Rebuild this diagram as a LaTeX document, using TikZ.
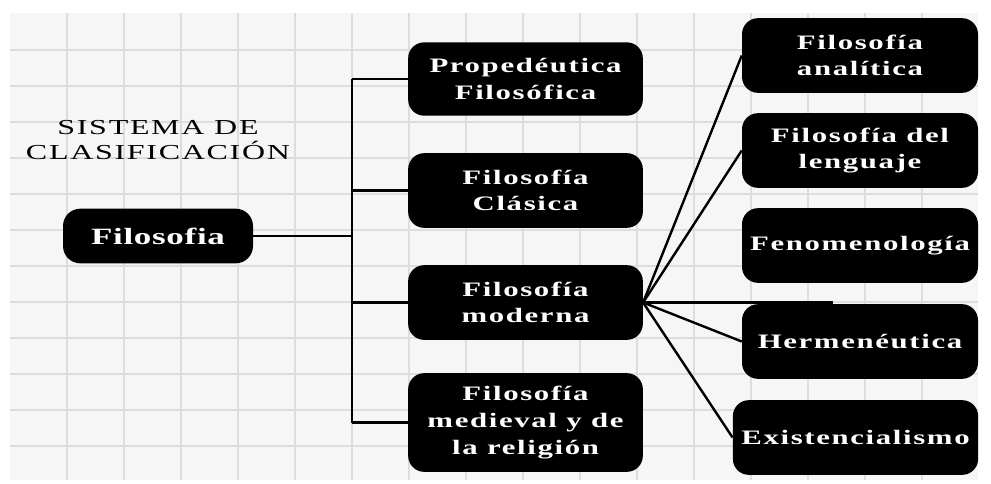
\documentclass[tikz,border=0pt]{standalone}
\usepackage{fontspec}
\setmainfont{Liberation Serif}
\newfontfamily\widefont{Liberation Serif}[FakeStretch=1.5,LetterSpace=8]
\newfontfamily\rootfont{Liberation Serif}[FakeStretch=1.5,LetterSpace=3]
\usepackage{tikz}
\usetikzlibrary{calc}
\definecolor{paper}{HTML}{F6F6F6}
\definecolor{rule}{HTML}{DDDDDD}
\tikzset{
  grid line/.style={draw=rule,line width=1.2pt},
  rootbox/.style={fill=black,text=white,rounded corners=13pt,align=center,inner sep=0pt,font=\rootfont\bfseries\fontsize{17.5}{20}\selectfont,minimum width=142.5pt,minimum height=41pt},
  mbox/.style={fill=black,text=white,rounded corners=12pt,align=center,inner sep=0pt,font=\widefont\bfseries\fontsize{15.4}{20}\selectfont,minimum width=176pt},
  rbox/.style={fill=black,text=white,rounded corners=12pt,align=center,inner sep=0pt,font=\widefont\bfseries\fontsize{15.4}{20}\selectfont,minimum width=177pt,minimum height=56pt},
  ttl/.style={align=center,font=\widefont\fontsize{16}{19}\selectfont},
  ln/.style={draw=black,line width=1.8pt},
}
\begin{document}
\begin{tikzpicture}[x=0.75pt,y=-0.75pt]
\useasboundingbox (0,0) rectangle (991,483);
\fill[paper] (10,13) rectangle (978,480);
\foreach \gx in {67,124,...,978} \draw[grid line] (\gx,13) -- (\gx,480);
\foreach \gy in {50,86,...,480} \draw[grid line] (10,\gy) -- (978,\gy);

\node[ttl] (title) at (158,140) {SISTEMA DE\\CLASIFICACIÓN};
\node[rootbox] (root) at (158,236) {Filosofia};

\foreach \name/\y/\h/\txt in {
  prop/79/55/{Propedéutica\\Filosófica},
  clas/190.5/56/{Filosofía\\Clásica},
  mod/302.5/56/{Filosofía\\moderna},
  med/422.5/74/{Filosofía\\medieval y de\\la religión}} {
  \node[mbox,minimum height=\h pt] (\name) at (525.5,\y) {\txt};
  \coordinate (bus-\name) at (352,\y);
  \draw[ln] (bus-\name) -- (\name.west);
}
\draw[ln] (bus-prop) -- (bus-med);
\draw[ln] (root.east) -- (root.east -| bus-prop);

\coordinate (fen-end) at (833,302.5);
\draw[ln] (mod.east) -- (fen-end);
\foreach \name/\y/\txt in {
  ana/55.5/{Filosofía\\analítica},
  len/150.5/{Filosofía del\\lenguaje},
  fen/245.5/{Fenomenología},
  her/341.5/{Hermenéutica}} {
  \node[rbox] (\name) at (860,\y) {\txt};
}
\node[rbox,minimum width=184pt] (exi) at (855.5,437.5) {Existencialismo};
\foreach \name in {ana,len,her,exi}
  \draw[ln] (mod.east) -- (\name.west);
\end{tikzpicture}
\end{document}
